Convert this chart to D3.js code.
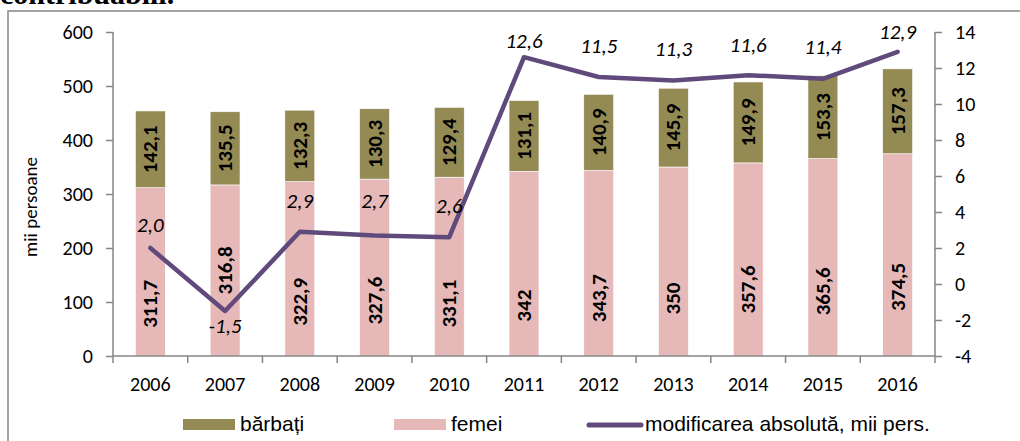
<!DOCTYPE html>
<html><head><meta charset="utf-8">
<script src="https://cdn.jsdelivr.net/npm/d3@7"></script>
<style>body{margin:0;background:#fff;overflow:hidden} svg{display:block}</style>
</head><body>
<svg id="c" width="1020" height="441"></svg>
<script>
const years = ["2006","2007","2008","2009","2010","2011","2012","2013","2014","2015","2016"];
const femei = [311.7,316.8,322.9,327.6,331.1,342,343.7,350,357.6,365.6,374.5];
const barbati = [142.1,135.5,132.3,130.3,129.4,131.1,140.9,145.9,149.9,153.3,157.3];
const modificare = [2.0,-1.5,2.9,2.7,2.6,12.6,11.5,11.3,11.6,11.4,12.9];
const leftTicks = [0,100,200,300,400,500,600];
const rightTicks = [-4,-2,0,2,4,6,8,10,12,14];
const legendLabels = ["bărbați","femei","modificarea absolută, mii pers."];
const yTitle = "mii persoane";
// label nudges (pixels) as placed in the original
const lineLabelDy = [-16,22,-24,-27,-24,-9,-24,-25,-23,-25,-13];
const femeiLabelDy = [32,0,33,33,37,42,35,37,30,34,32];

const colBarbati = "#948A54", colFemei = "#E6B9B8", colLine = "#604A7B", axisCol = "#868686";
const fontCal = "Carlito, Lato, sans-serif";

const svg = d3.select("#c");
const L = 113, R = 935, T = 32, B = 356;

// heading fragment from page above
svg.append("text").attr("x", 0).attr("y", 4)
  .attr("font-family", "Liberation Serif, serif").attr("font-size", 30).attr("font-weight", "bold")
  .attr("fill", "#000").text("contribuabili.");

// outer frame
svg.append("rect").attr("x", 8).attr("y", 11).attr("width", 1030).attr("height", 450)
  .attr("fill", "none").attr("stroke", axisCol).attr("stroke-width", 1.5);

const x = d3.scaleBand().domain(years).range([L, R]).paddingInner(0.6).paddingOuter(0.3);
const yL = d3.scaleLinear().domain([0, 600]).range([B, T]);
const yR = d3.scaleLinear().domain([-4, 14]).range([B, T]);

const rows = years.map((y, i) => ({year: y, idx: i, femei: femei[i], barbati: barbati[i]}));
const stack = d3.stack().keys(["femei", "barbati"])(rows);
const colors = {femei: colFemei, barbati: colBarbati};

const g = svg.append("g");
stack.forEach(layer => {
  g.selectAll(null).data(layer).enter().append("rect")
    .attr("x", d => x(d.data.year))
    .attr("width", x.bandwidth())
    .attr("y", d => yL(d[1]))
    .attr("height", d => yL(d[0]) - yL(d[1]))
    .attr("fill", colors[layer.key])
    .attr("stroke", "#fff").attr("stroke-width", 0.6);
});
stack.forEach(layer => {
  g.selectAll(null).data(layer).enter().append("text")
    .attr("transform", d => {
      const dy = layer.key === "femei" ? femeiLabelDy[d.data.idx] : 0;
      return `translate(${x(d.data.year) + x.bandwidth()/2 + 7},${(yL(d[0]) + yL(d[1]))/2 + dy}) rotate(-90)`;
    })
    .attr("text-anchor", "middle")
    .attr("font-family", fontCal).attr("font-size", 21).attr("font-weight", "bold")
    .attr("fill", "#000")
    .text(d => String(d.data[layer.key]).replace(".", ","));
});

// axes
const axL = d3.axisLeft(yL).tickValues(leftTicks).tickSize(7).tickPadding(13).tickFormat(d => d);
const gL = svg.append("g").attr("transform", `translate(${L},0)`).call(axL);
const axR = d3.axisRight(yR).tickValues(rightTicks).tickSize(7).tickPadding(13).tickFormat(d => d);
const gR = svg.append("g").attr("transform", `translate(${R},0)`).call(axR);
const axB = d3.axisBottom(x).tickSize(0).tickPadding(21);
const gB = svg.append("g").attr("transform", `translate(0,${B})`).call(axB);
[gL, gR, gB].forEach(a => {
  a.select(".domain").attr("stroke", axisCol).attr("stroke-width", 1.5);
  a.selectAll(".tick line").attr("stroke", axisCol).attr("stroke-width", 1.5);
  a.selectAll("text").attr("font-family", fontCal).attr("font-size", 20).attr("fill", "#000");
});
gL.select(".domain").attr("d", `M0,${T}V${B}`);
gR.select(".domain").attr("d", `M0,${T}V${B}`);
gB.select(".domain").attr("d", `M${L},0H${R}`);
// category boundary ticks
const step = x.step();
const bounds = years.map(y => x(y) - step * x.paddingInner() / 2).concat([R]);
gB.selectAll(".btick").data(bounds).enter().append("line")
  .attr("x1", d => d).attr("x2", d => d).attr("y1", 0).attr("y2", 7)
  .attr("stroke", axisCol).attr("stroke-width", 1.5);

// y title
svg.append("text").attr("transform", `translate(37,${(T + B)/2 + 13}) rotate(-90)`)
  .attr("text-anchor", "middle").attr("font-family", fontCal).attr("font-size", 19)
  .attr("fill", "#000").text(yTitle);

// line
const cx = y => x(y) + x.bandwidth()/2;
const line = d3.line().x((d, i) => cx(years[i])).y(d => yR(d));
svg.append("path").datum(modificare).attr("d", line)
  .attr("fill", "none").attr("stroke", colLine).attr("stroke-width", 4.5)
  .attr("stroke-linejoin", "round").attr("stroke-linecap", "round");
svg.selectAll(".ll").data(modificare).enter().append("text")
  .attr("x", (d, i) => cx(years[i]))
  .attr("y", (d, i) => yR(d) + lineLabelDy[i])
  .attr("text-anchor", "middle").attr("font-family", fontCal).attr("font-size", 21)
  .attr("font-style", "italic").attr("fill", "#000")
  .text(d => d.toFixed(1).replace(".", ","));

// legend
const lg = svg.append("g").attr("font-family", "Liberation Sans, Arial, sans-serif").attr("font-size", 21).attr("fill", "#000");
lg.append("rect").attr("x", 183).attr("y", 419).attr("width", 52).attr("height", 11).attr("fill", colBarbati);
lg.append("text").attr("x", 240).attr("y", 431).text(legendLabels[0]);
lg.append("rect").attr("x", 394).attr("y", 419).attr("width", 52).attr("height", 11).attr("fill", colFemei);
lg.append("text").attr("x", 451).attr("y", 431).text(legendLabels[1]);
lg.append("line").attr("x1", 589).attr("x2", 641).attr("y1", 425).attr("y2", 425)
  .attr("stroke", colLine).attr("stroke-width", 5).attr("stroke-linecap", "round");
lg.append("text").attr("x", 645).attr("y", 431).text(legendLabels[2]);
</script>
</body></html>
